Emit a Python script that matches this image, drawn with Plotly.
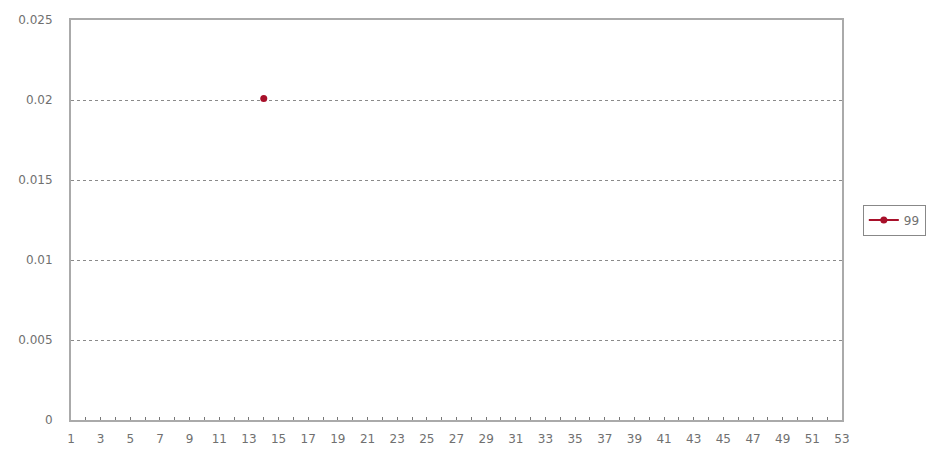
import plotly.graph_objects as go

categories = list(range(1, 54))
series_name = "99"
series_x = [14]
series_y = [0.0201]
x_tick_labels = [str(c) if c % 2 == 1 else "" for c in categories]
y_tick_vals = [0, 0.005, 0.01, 0.015, 0.02, 0.025]
y_tick_text = ["0", "0.005", "0.01", "0.015", "0.02", "0.025"]

fig = go.Figure()
fig.add_trace(go.Scatter(
    x=series_x, y=series_y, name=series_name, mode="lines+markers",
    line=dict(color="#A8102A", width=2),
    marker=dict(color="#A8102A", size=7, symbol="circle"),
))

fig.update_layout(
    width=930, height=449,
    margin=dict(l=71, r=88, t=20, b=29, autoexpand=False),
    paper_bgcolor="white", plot_bgcolor="white",
    font=dict(family="DejaVu Sans", size=12, color="#707070"),
    showlegend=True,
    legend=dict(x=1.027, y=0.5, xanchor="left", yanchor="middle",
                bordercolor="#888888", borderwidth=1,
                font=dict(size=12, color="#707070"),
                itemwidth=30, tracegroupgap=0),
    xaxis=dict(range=[1, 53], tickmode="array", tickvals=categories,
               ticktext=x_tick_labels, ticks="inside", ticklen=3,
               tickcolor="#777777", showgrid=False, zeroline=False,
               ticklabelstandoff=7, automargin=False,
               showline=True, linecolor="#aaaaaa", linewidth=2, mirror=True),
    yaxis=dict(range=[0, 0.025], tickmode="array", tickvals=y_tick_vals,
               ticktext=y_tick_text, ticks="", ticklen=0,
               ticklabelstandoff=14, automargin=False,
               showgrid=True, gridcolor="#8a8a8a", griddash="dot", gridwidth=1,
               zeroline=False, showline=True, linecolor="#aaaaaa",
               linewidth=2, mirror=True),
)

fig.write_html(
    "out.html",
    config={"displayModeBar": False},
    post_script="document.body.style.margin='0';document.body.style.overflow='hidden';",
)
